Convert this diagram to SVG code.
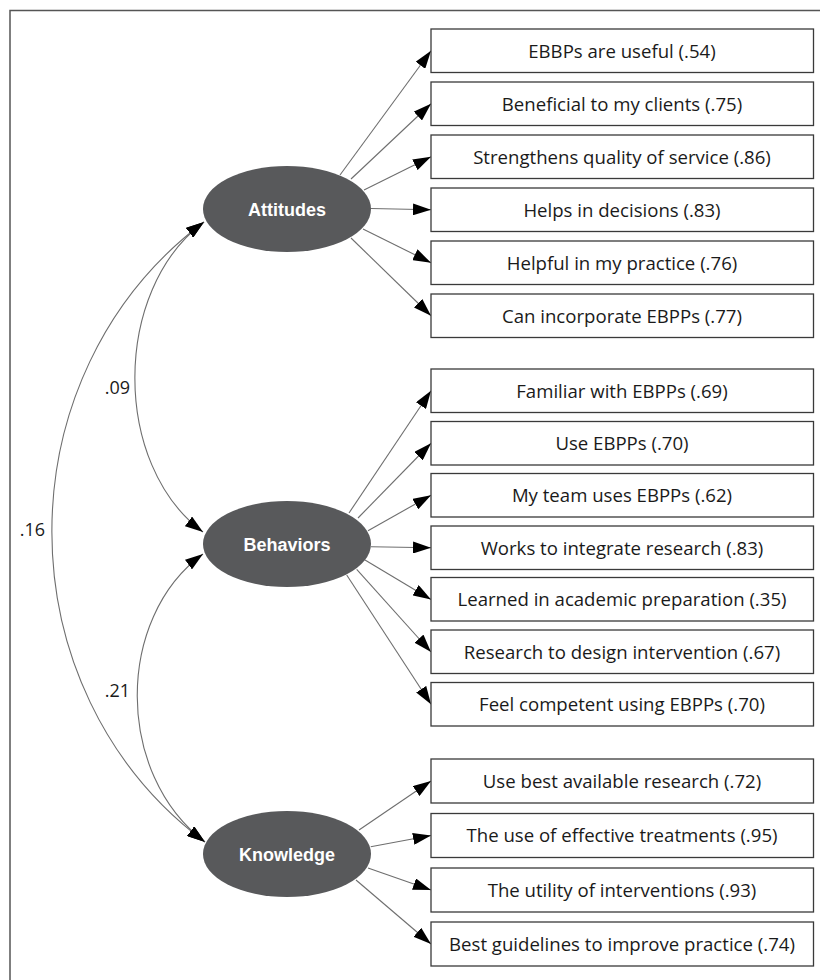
<svg xmlns="http://www.w3.org/2000/svg" width="820" height="980" viewBox="0 0 820 980">
<style>
  .frame{fill:none;stroke:#555;stroke-width:1.5}
  .box{fill:#fff;stroke:#3a3a3a;stroke-width:1.3}
  .btxt{font-family:"Open Sans","Liberation Sans",Arial,sans-serif;font-size:18.6px;fill:#1a1a1a;text-anchor:middle}
  .lat{fill:#58595b}
  .ltxt{font-family:"Liberation Sans",Arial,sans-serif;font-size:18px;font-weight:bold;fill:#fff;text-anchor:middle}
  .path{fill:none;stroke:#6e6e6e;stroke-width:1.1;marker-end:url(#ah)}
  .cov{fill:none;stroke:#6e6e6e;stroke-width:1.1;marker-end:url(#ah);marker-start:url(#ahs)}
  .num{font-family:"Open Sans","Liberation Sans",Arial,sans-serif;font-size:18px;fill:#1a1a1a}
</style>
<defs>
  <marker id="ah" viewBox="0 0 18 12" refX="18" refY="6" markerWidth="18" markerHeight="12" markerUnits="userSpaceOnUse" orient="auto">
    <path d="M0,0 L18,6 L0,12 z" fill="#000"/>
  </marker>
  <marker id="ahs" viewBox="0 0 18 12" refX="18" refY="6" markerWidth="18" markerHeight="12" markerUnits="userSpaceOnUse" orient="auto-start-reverse">
    <path d="M0,0 L18,6 L0,12 z" fill="#000"/>
  </marker>
</defs>
<path class="frame" d="M10,980 V10.5 H820"/>

<g id="connectors">
  <!-- Attitudes -->
  <line class="path" x1="340" y1="175" x2="431" y2="50.75"/>
  <line class="path" x1="351" y1="179" x2="431" y2="103.75"/>
  <line class="path" x1="364" y1="190" x2="431" y2="156.75"/>
  <line class="path" x1="371" y1="208.5" x2="431" y2="209.75"/>
  <line class="path" x1="363" y1="229" x2="431" y2="262.75"/>
  <line class="path" x1="351" y1="238" x2="431" y2="315.75"/>
  <!-- Behaviors -->
  <line class="path" x1="349" y1="513" x2="431" y2="390.75"/>
  <line class="path" x1="358" y1="518" x2="431" y2="443.25"/>
  <line class="path" x1="368" y1="530.7" x2="431" y2="495.25"/>
  <line class="path" x1="371" y1="546.7" x2="431" y2="547.75"/>
  <line class="path" x1="365" y1="560" x2="431" y2="599.5"/>
  <line class="path" x1="356.7" y1="569.3" x2="431" y2="652"/>
  <line class="path" x1="346.7" y1="575" x2="431" y2="704.25"/>
  <!-- Knowledge -->
  <line class="path" x1="359" y1="830" x2="431" y2="781"/>
  <line class="path" x1="370.7" y1="846.7" x2="431" y2="835.5"/>
  <line class="path" x1="368" y1="868" x2="431" y2="890"/>
  <line class="path" x1="356" y1="880" x2="431" y2="944"/>
  <!-- covariances -->
  <path class="cov" d="M204,222 C112,290 112,465 203,532"/>
  <path class="cov" d="M204,222 C1,374 1,690 205,842"/>
  <path class="cov" d="M203,554 C115,618 115,774 205,842"/>
  <text class="num" x="130" y="394" text-anchor="end">.09</text>
  <text class="num" x="45" y="536" text-anchor="end">.16</text>
  <text class="num" x="130" y="697" text-anchor="end">.21</text>
</g>

<g id="attitudes">
  <ellipse class="lat" cx="287" cy="209" rx="84" ry="43"/>
  <text class="ltxt" x="287" y="215.5">Attitudes</text>
</g>
<g id="behaviors">
  <ellipse class="lat" cx="287" cy="544" rx="84" ry="43"/>
  <text class="ltxt" x="287" y="550.5">Behaviors</text>
</g>
<g id="knowledge">
  <ellipse class="lat" cx="287" cy="854" rx="84" ry="43"/>
  <text class="ltxt" x="287" y="860.5">Knowledge</text>
</g>

<g id="a1"><rect class="box" x="431" y="29" width="382.5" height="43.5"/><text class="btxt" x="622" y="57.5">EBBPs are useful (.54)</text></g>
<g id="a2"><rect class="box" x="431" y="82" width="382.5" height="43.5"/><text class="btxt" x="622" y="110.5">Beneficial to my clients (.75)</text></g>
<g id="a3"><rect class="box" x="431" y="135" width="382.5" height="43.5"/><text class="btxt" x="622" y="163.5">Strengthens quality of service (.86)</text></g>
<g id="a4"><rect class="box" x="431" y="188" width="382.5" height="43.5"/><text class="btxt" x="622" y="216.5">Helps in decisions (.83)</text></g>
<g id="a5"><rect class="box" x="431" y="241" width="382.5" height="43.5"/><text class="btxt" x="622" y="269.5">Helpful in my practice (.76)</text></g>
<g id="a6"><rect class="box" x="431" y="294" width="382.5" height="43.5"/><text class="btxt" x="622" y="322.5">Can incorporate EBPPs (.77)</text></g>

<g id="b1"><rect class="box" x="431" y="369" width="382.5" height="43.5"/><text class="btxt" x="622" y="397.5">Familiar with EBPPs (.69)</text></g>
<g id="b2"><rect class="box" x="431" y="421.5" width="382.5" height="43.5"/><text class="btxt" x="622" y="450">Use EBPPs (.70)</text></g>
<g id="b3"><rect class="box" x="431" y="473.5" width="382.5" height="43.5"/><text class="btxt" x="622" y="502">My team uses EBPPs (.62)</text></g>
<g id="b4"><rect class="box" x="431" y="526" width="382.5" height="43.5"/><text class="btxt" x="622" y="554.5">Works to integrate research (.83)</text></g>
<g id="b5"><rect class="box" x="431" y="577.5" width="382.5" height="43.5"/><text class="btxt" x="622" y="606">Learned in academic preparation (.35)</text></g>
<g id="b6"><rect class="box" x="431" y="630" width="382.5" height="43.5"/><text class="btxt" x="622" y="658.5">Research to design intervention (.67)</text></g>
<g id="b7"><rect class="box" x="431" y="682.5" width="382.5" height="43.5"/><text class="btxt" x="622" y="711">Feel competent using EBPPs (.70)</text></g>

<g id="k1"><rect class="box" x="431" y="759" width="382.5" height="44"/><text class="btxt" x="622" y="787.5">Use best available research (.72)</text></g>
<g id="k2"><rect class="box" x="431" y="813.5" width="382.5" height="44"/><text class="btxt" x="622" y="842">The use of effective treatments (.95)</text></g>
<g id="k3"><rect class="box" x="431" y="868" width="382.5" height="44"/><text class="btxt" x="622" y="896.5">The utility of interventions (.93)</text></g>
<g id="k4"><rect class="box" x="431" y="922" width="382.5" height="44"/><text class="btxt" x="622" y="950.5">Best guidelines to improve practice (.74)</text></g>
</svg>
